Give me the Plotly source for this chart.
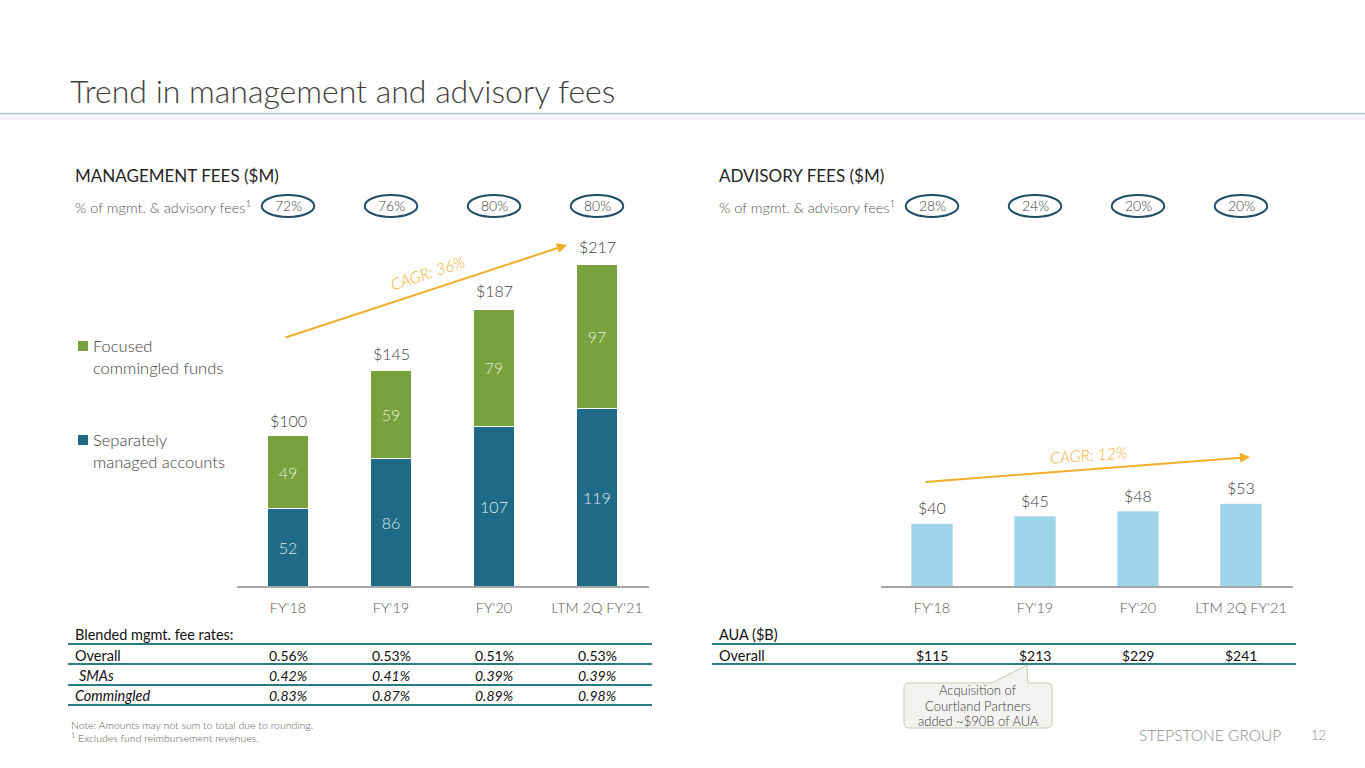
import plotly.graph_objects as go

W, H = 1365, 768
FONT = "Lato"

# ---- data ----
categories = ["FY'18", "FY'19", "FY'20", "LTM 2Q FY'21"]
smas = [52, 86, 107, 119]
commingled = [49, 59, 79, 97]
mgmt_totals = [100, 145, 187, 217]
mgmt_share = ["72%", "76%", "80%", "80%"]
advisory = [40, 45, 48, 53]
advisory_share = ["28%", "24%", "20%", "20%"]
rate_overall = ["0.56%", "0.53%", "0.51%", "0.53%"]
rate_smas = ["0.42%", "0.41%", "0.39%", "0.39%"]
rate_commingled = ["0.83%", "0.87%", "0.89%", "0.98%"]
aua_overall = ["$115", "$213", "$229", "$241"]

BLUE = "#1f6a86"
GREEN = "#77a23d"
LIGHT = "#9dd6ea"
GOLD = "#f0ad2a"
TEAL = "#2a7b82"
DARK = "#404040"
GREY = "#595959"
BLACK = "#111111"

xs = list(range(len(categories)))


def fx(x):
    return x / W


def fy(y):
    return 1 - y / H


fig = go.Figure()

fig.add_trace(go.Bar(
    x=xs, y=smas, name="Separately managed accounts", marker_color=BLUE,
    marker_line_color="white", marker_line_width=1, width=0.4,
    text=smas, textposition="inside", insidetextanchor="middle", textangle=0,
    textfont=dict(family=FONT, size=16, color="#dbeaf0", weight=300),
    xaxis="x", yaxis="y", showlegend=False))
fig.add_trace(go.Bar(
    x=xs, y=commingled, name="Focused commingled funds", marker_color=GREEN,
    marker_line_color="white", marker_line_width=1, width=0.4,
    text=commingled, textposition="inside", insidetextanchor="middle", textangle=0,
    textfont=dict(family=FONT, size=16, color="#e6eed8", weight=300),
    xaxis="x", yaxis="y", showlegend=False))
fig.add_trace(go.Bar(
    x=xs, y=advisory, name="Advisory fees", marker_color=LIGHT, width=0.4,
    xaxis="x2", yaxis="y2", showlegend=False))

ann = []
shapes = []


def text(x, y, s, size=14, color=DARK, anchor="left", weight=300, **kw):
    ann.append(dict(x=fx(x), y=fy(y), xref="paper", yref="paper", text=s,
                    showarrow=False, xanchor=anchor, yanchor="middle",
                    font=dict(family=FONT, size=size, color=color, weight=weight), **kw))


def hline(x0, x1, y, color=TEAL, width=2):
    shapes.append(dict(type="line", xref="paper", yref="paper",
                       x0=fx(x0), x1=fx(x1), y0=fy(y), y1=fy(y),
                       line=dict(color=color, width=width)))


# title and rule
text(68, 90, "Trend in management and advisory fees", size=32, color=DARK)
shapes.append(dict(type="rect", xref="paper", yref="paper", x0=0, x1=1,
                   y0=fy(120), y1=fy(114), fillcolor="#f1f4f6", line_width=0))
hline(0, W, 113.5, color="#aec2ce", width=1.5)

# section headers
text(73, 175, "MANAGEMENT FEES ($M)", size=17, color="#262626", weight=400)
text(717, 175, "ADVISORY FEES ($M)", size=17, color="#262626", weight=400)
text(73, 206, "% of mgmt. & advisory fees<sup>1</sup>", size=14.5, color=GREY)
text(717, 206, "% of mgmt. & advisory fees<sup>1</sup>", size=14.5, color=GREY)

# share ellipses
for xr, shares in (("x", mgmt_share), ("x2", advisory_share)):
    for i, s in zip(xs, shares):
        shapes.append(dict(type="circle", xref=xr, yref="paper",
                           x0=i - 0.255, x1=i + 0.255, y0=fy(217), y1=fy(195),
                           line=dict(color="#1f4e66", width=2)))
        ann.append(dict(x=i, y=fy(205.5), xref=xr, yref="paper", text=s,
                        showarrow=False, yanchor="middle",
                        font=dict(family=FONT, size=14, color=DARK, weight=300)))

# totals above bars
for i, t in zip(xs, mgmt_totals):
    ann.append(dict(x=i, y=t, xref="x", yref="y", text=f"${t}", showarrow=False,
                    yanchor="middle", yshift=17,
                    font=dict(family=FONT, size=16, color=DARK, weight=300)))
for i, t in zip(xs, advisory):
    ann.append(dict(x=i, y=t, xref="x2", yref="y2", text=f"${t}", showarrow=False,
                    yanchor="middle", yshift=16,
                    font=dict(family=FONT, size=16, color=DARK, weight=300)))

# legend
for y, col, l1, l2 in ((346, GREEN, "Focused", "commingled funds"),
                       (440, BLUE, "Separately", "managed accounts")):
    shapes.append(dict(type="rect", xref="paper", yref="paper",
                       x0=fx(78), x1=fx(88), y0=fy(y + 5), y1=fy(y - 5),
                       fillcolor=col, line_width=0))
    text(91, y, l1, size=16.5)
    text(91, y + 21.5, l2, size=16.5)

# CAGR arrows
for (x0, y0, x1, y1), (tx, ty), lab, ang in (
        ((284, 338, 567, 245), (427, 272), "CAGR: 36%", -18),
        ((924, 482, 1250, 457), (1088, 454), "CAGR: 12%", -4)):
    ann.append(dict(x=fx(x1), y=fy(y1), xref="paper", yref="paper", text="",
                    showarrow=True, ax=x0 - x1, ay=y0 - y1, axref="pixel", ayref="pixel",
                    arrowhead=2, arrowsize=1, arrowwidth=2, arrowcolor=GOLD))
    text(tx, ty, f"<i>{lab}</i>", size=16, color=GOLD, anchor="center", textangle=ang)

# left table
text(73, 634.5, "Blended mgmt. fee rates:", size=14.5, color=BLACK, weight=400)
hline(68, 652, 644)
rows = [("Overall", rate_overall, 655, 664, False),
        ("SMAs", rate_smas, 675.5, 685, True),
        ("Commingled", rate_commingled, 695.5, 705, True)]
for lab, vals, y, ly, it in rows:
    fmt = (lambda s: f"<i>{s}</i>") if it else (lambda s: s)
    text(77 if lab == "SMAs" else 73, y, fmt(lab), size=14.5, color=BLACK, weight=400)
    for i, v in zip(xs, vals):
        ann.append(dict(x=i, y=fy(y), xref="x", yref="paper", text=fmt(v),
                        showarrow=False, yanchor="middle",
                        font=dict(family=FONT, size=14, color=BLACK, weight=400)))
    hline(68, 652, ly)

# right table
text(717, 634.5, "AUA ($B)", size=14.5, color=BLACK, weight=400)
hline(712, 1296, 644)
text(717, 655, "Overall", size=14.5, color=BLACK, weight=400)
for i, v in zip(xs, aua_overall):
    ann.append(dict(x=i, y=fy(655), xref="x2", yref="paper", text=v,
                    showarrow=False, yanchor="middle",
                    font=dict(family=FONT, size=14, color=BLACK, weight=400)))
hline(712, 1296, 664)

# callout
bx0, bx1, by0, by1, r = 904, 1052, 683, 728, 5
pts = [
    f"M {fx(bx0 + r)},{fy(by0)}",
    f"L {fx(992)},{fy(by0)}",
    f"L {fx(1027)},{fy(665)}",
    f"L {fx(1028)},{fy(by0)}",
    f"L {fx(bx1 - r)},{fy(by0)}",
    f"Q {fx(bx1)},{fy(by0)} {fx(bx1)},{fy(by0 + r)}",
    f"L {fx(bx1)},{fy(by1 - r)}",
    f"Q {fx(bx1)},{fy(by1)} {fx(bx1 - r)},{fy(by1)}",
    f"L {fx(bx0 + r)},{fy(by1)}",
    f"Q {fx(bx0)},{fy(by1)} {fx(bx0)},{fy(by1 - r)}",
    f"L {fx(bx0)},{fy(by0 + r)}",
    f"Q {fx(bx0)},{fy(by0)} {fx(bx0 + r)},{fy(by0)}",
    "Z",
]
shapes.append(dict(type="path", xref="paper", yref="paper", path=" ".join(pts),
                   fillcolor="#f2f2f0", line=dict(color="#c3ccb0", width=1)))
text(978, 690, "Acquisition of", size=13, anchor="center")
text(978, 706, "Courtland Partners", size=13, anchor="center")
text(978, 721, "added ~$90B of AUA", size=13, anchor="center")

# footnotes and footer
text(69, 725, "Note: Amounts may not sum to total due to rounding.", size=10.5, color=GREY)
text(69, 737, "<sup>1</sup> Excludes fund reimbursement revenues.", size=10.5, color=GREY)
text(1210, 735, "STEPSTONE GROUP", size=15.5, color="#8c8c8c", anchor="center")
text(1318, 735, "12", size=13, color="#8c8c8c", anchor="center")

axis_x = dict(range=[-0.5, 3.5], tickvals=xs, ticktext=categories, showline=True,
              linecolor="#a6a6a6", linewidth=1.5, showgrid=False, zeroline=False,
              ticks="", ticklabelstandoff=8,
              tickfont=dict(family=FONT, size=14.5, color=GREY, weight=300),
              fixedrange=True)
fig.update_layout(
    width=W, height=H, margin=dict(l=0, r=0, t=0, b=0),
    paper_bgcolor="white", plot_bgcolor="white", barmode="stack",
    font=dict(family=FONT),
    xaxis=dict(domain=[236.5 / W, 648.5 / W], anchor="y", **axis_x),
    xaxis2=dict(domain=[880.5 / W, 1292.5 / W], anchor="y2", **axis_x),
    yaxis=dict(domain=[fy(586), fy(240)], range=[0, 232.5], visible=False, anchor="x"),
    yaxis2=dict(domain=[fy(586), fy(240)], range=[0, 222.5], visible=False, anchor="x2"),
    annotations=ann, shapes=shapes,
)

fig.write_html("out.html", config={"displayModeBar": False},
               post_script="document.body.style.margin='0';")
